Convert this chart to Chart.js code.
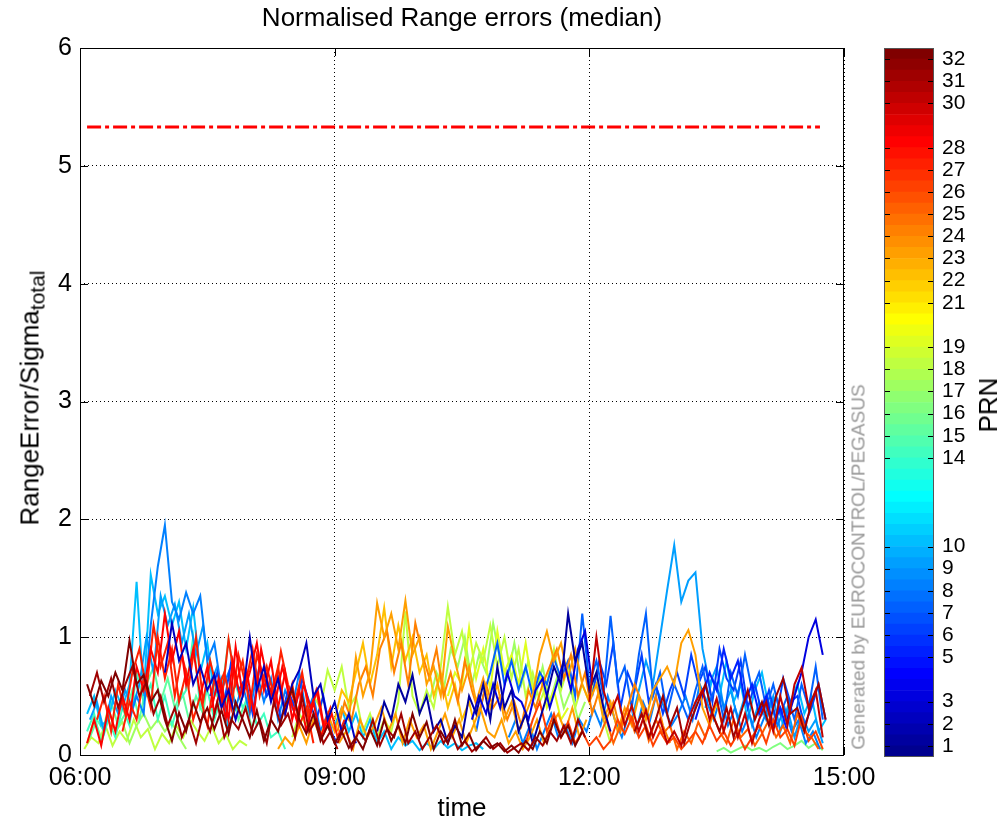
<!DOCTYPE html>
<html>
<head>
<meta charset="utf-8">
<script src="https://cdn.jsdelivr.net/npm/chart.js@4.4.1/dist/chart.umd.min.js"></script>
<style>
  body { margin: 0; background: #fff; font-family: 'Liberation Sans', Arial, sans-serif; }
  #wrap { position: relative; width: 1001px; height: 827px; overflow: hidden; }
  canvas { position: absolute; top: 0; }
  .rot { position: absolute; white-space: nowrap; transform: translate(-50%, -50%) rotate(-90deg); line-height: 1; }
  #ylab { left: 32px; top: 398px; font-size: 26px; color: #000; }
  #ylab sub { font-size: 21px; vertical-align: -6px; }
  #prnlab { left: 988px; top: 405px; font-size: 26px; color: #000; }
  #stamp { left: 858px; top: 567px; font-size: 19px; color: #999; }
</style>
</head>
<body>
<div id="wrap">
  <canvas id="main" width="1001" height="827" style="left:0"></canvas>
  <canvas id="cbar" width="141" height="827" style="left:860px"></canvas>
  <div class="rot" id="ylab">RangeError/Sigma<sub>total</sub></div>
  <div class="rot" id="prnlab">PRN</div>
  <div class="rot" id="stamp">Generated by EUROCONTROL/PEGASUS</div>
</div>
<script>
// values every 5 minutes, from the start time given in the series list
const prn32 = [0.6, 0.42, 0.63, 0.5, 0.7, 0.55, 0.97, 0.6, 0.68, 0.45, 0.55,
  0.3, 0.12, 0.36, 0.2, 0.45, 0.28, 0.4, 0.22, 0.38, 0.18, 0.45, 0.3,
  0.15, 0.38, 0.12, 0.3, 0.2, 0.42, 0.56, 0.3, 0.18, 0.35, 0.12, 0.25,
  0.1, 0.2, 0.06, 0.15, 0.05, 0.22, 0.08, 0.3, 0.12, 0.25, 0.1, 0.35,
  0.15, 0.28, 0.05, 0.2, 0.1, 0.3, 0.08, 0.18, 0.04, 0.12, 0.06, 0.1,
  0.03, 0.08, 0.02, 0.12, 0.05, 0.2, 0.1, 0.3, 0.15, 0.25, 0.08, 0.2];
const prn31a = [0.5, 0.7, 0.45, 0.65, 0.4, 0.6, 0.75, 0.5, 0.62, 0.35, 0.5, 0.25,
  0.4, 0.15, 0.3, 0.1, 0.35, 0.2, 0.45, 0.15, 0.3, 0.22, 0.4, 0.18,
  0.3, 0.1, 0.45, 0.25, 0.35, 0.15, 0.5, 0.2, 0.3, 0.1, 0.2, 0.05];
const prn31b = [0.1, 0.25, 0.05, 0.2, 0.12, 0.3, 0.08, 0.22, 0.15, 0.35, 0.1, 0.2,
  0.05, 0.15, 0.25, 0.1, 0.2, 0.05, 0.12, 0.03, 0.08, 0.15, 0.05, 0.1,
  0.02, 0.06, 0.1, 0.04, 0.15, 0.08, 0.2, 0.12, 0.25, 0.1, 0.3, 0.15];
const prn31c = [0.2, 0.35, 0.15, 0.3, 0.5, 0.25, 0.4, 0.1, 0.3, 0.45, 0.6, 0.35,
  0.2, 0.4, 0.15, 0.35, 0.55, 0.3, 0.45, 0.25, 0.5, 0.65, 0.35, 0.4,
  0.2, 0.45, 0.6, 0.3];
const prn30 = [0.45, 1.0, 0.55, 0.35, 0.5, 0.25, 0.42, 0.2, 0.38, 0.15, 0.3, 0.1,
  0.2, 0.08, 0.3, 0.45, 0.55, 0.3, 0.48, 0.2, 0.4, 0.15, 0.35, 0.1,
  0.3, 0.45, 0.2, 0.5, 0.25, 0.6, 0.74, 0.4, 0.55, 0.15];
const prn28a = [0.1, 0.3, 0.08, 0.4, 0.2, 0.5, 0.3, 0.75, 0.55, 0.9, 0.7,
  1.2, 0.8, 1.05, 0.6, 0.9, 0.5, 0.75, 0.35, 0.6, 0.3, 0.92, 0.5,
  0.7, 0.95, 0.55, 0.8, 0.4, 0.7, 0.3, 0.55, 0.2, 0.45, 0.15, 0.3, 0.1];
const prn28b = [0.4, 0.65, 0.3, 0.8, 0.5, 0.7, 0.35, 0.9, 0.6, 0.45, 0.75, 0.5,
  0.3, 0.6, 0.4, 0.55, 0.2, 0.35];
const prn27a = [0.2, 0.45, 0.3, 0.65, 0.4, 1.0,
  0.65, 0.9, 0.45, 0.7, 0.3, 0.5, 0.25, 0.65, 0.45, 0.98, 0.6, 0.8,
  0.4, 0.85, 0.65, 0.5, 0.75, 0.35, 0.6, 0.25, 0.4, 0.1];
const prn27b = [0.3, 0.5, 0.2, 0.6, 0.35, 0.7, 0.9, 0.55, 1.1, 0.75, 0.95, 0.5,
  0.85, 0.6, 1.0, 0.45, 0.8, 0.55, 0.7, 0.4, 0.85, 0.6, 0.9, 0.5,
  0.75, 0.5, 0.88, 0.6, 0.45, 0.7, 0.35, 0.55, 0.25, 0.4, 0.15, 0.3];
const prn26 = [0.1, 0.3, 0.45, 0.2, 0.35, 0.15, 0.28, 0.1, 0.2,
  0.08, 0.15, 0.05, 0.12, 0.3, 0.18, 0.32, 0.15, 0.25, 0.08, 0.2, 0.1,
  0.15, 0.05, 0.12, 0.2, 0.1, 0.25, 0.12, 0.2, 0.08, 0.18, 0.05, 0.15,
  0.25, 0.1, 0.3, 0.15, 0.22, 0.08, 0.32, 0.12, 0.2, 0.05];
const prn25 = [0.15, 0.3, 0.1, 0.25, 0.4, 0.2, 0.35, 0.12, 0.3, 0.18, 0.25, 0.05,
  0.2, 0.1, 0.28, 0.15, 0.35, 0.2, 0.1, 0.3, 0.15, 0.22, 0.08, 0.18,
  0.3, 0.15, 0.25, 0.1, 0.35, 0.2, 0.15, 0.05];
const prn24 = [0.2, 0.45, 0.3, 0.6, 0.75, 0.5, 0.9, 1.05, 0.7, 0.95, 0.6, 1.12,
  0.85, 0.65, 0.9, 0.5, 0.7, 0.45, 0.8, 0.55, 0.35, 0.6, 0.4, 0.5,
  0.3, 0.45, 0.25, 0.55, 0.4, 0.6, 0.75, 0.9, 0.65, 0.85, 0.5, 0.7,
  0.35, 0.55, 0.3, 0.45, 0.2, 0.4, 0.6, 0.45, 0.3, 0.5, 0.25, 0.1];
const prn23a = [0.05, 0.15, 0.08, 0.25, 0.1, 0.3, 0.15, 0.35,
  0.2, 0.4, 0.3, 0.83, 0.5, 0.7, 1.29, 1.0, 1.2, 0.9, 1.31, 0.85,
  1.0, 0.6, 0.75, 0.5, 1.09, 0.8, 0.55, 0.75, 0.45, 0.65, 0.4, 0.6,
  0.3, 0.45, 0.2, 0.35, 0.5, 0.85, 1.05, 0.8, 0.95, 0.65, 0.9, 0.6,
  0.45, 0.6, 0.3, 0.45, 0.2, 0.4, 0.25, 0.5, 0.3, 0.55, 0.65, 0.75,
  0.6, 0.95, 1.06, 0.85, 0.4, 0.25, 0.45, 0.2];
const prn23b = [0.1, 0.2, 0.05, 0.3, 0.15, 0.25, 0.4, 0.2, 0.35, 0.1, 0.3, 0.15,
  0.25, 0.05, 0.2, 0.35, 0.15, 0.3, 0.1, 0.25, 0.4, 0.2, 0.15, 0.3,
  0.1, 0.2, 0.05, 0.15, 0.3, 0.1, 0.25, 0.35, 0.2, 0.4, 0.15, 0.3];
const prn22 = [0.3, 0.55, 0.45, 0.7, 0.95, 0.6, 0.85, 1.25, 0.75, 1.1, 0.8, 1.0,
  0.7, 0.85, 0.5, 0.7, 0.4, 0.6, 0.3, 0.45, 0.2];
const prn19 = [0.5, 0.7, 0.6, 1.08, 0.65, 0.9, 0.55, 1.05, 0.7, 0.85, 0.6, 0.95,
  0.55, 0.7, 0.4, 0.55, 0.3, 0.4];
const prn18a = [0.05, 0.15, 0.1, 0.25, 0.08, 0.2, 0.12, 0.3, 0.15, 0.22, 0.05, 0.18,
  0.1, 0.25, 0.15, 0.3, 0.2, 0.12, 0.25, 0.1, 0.18, 0.05, 0.12, 0.08];
const prn18b = [0.15, 0.35, 0.25, 0.5, 0.4, 0.72,
  0.55, 0.75, 0.4, 0.5, 0.2, 0.35, 0.15, 0.3, 0.2, 0.45, 1.22, 0.5,
  0.35, 0.55, 0.4, 0.75, 1.26, 0.85, 1.05, 0.7, 0.95, 0.8, 1.1, 0.75,
  1.0, 0.65, 0.9, 0.5, 0.7, 0.45, 0.6, 0.9, 0.55, 0.75, 0.4, 0.6,
  0.45, 0.7, 0.3, 0.1];
const prn17a = [0.1, 0.3, 0.15, 0.4, 0.2, 0.28, 0.1, 0.25, 0.35, 0.22, 0.3, 0.2, 0.28, 0.15, 0.05];
const prn17b = [0.45, 0.7, 0.55, 0.9, 0.75, 1.0, 0.6, 0.85, 0.7, 1.12, 0.8, 0.65,
  0.95, 0.6, 0.8, 0.5, 0.75, 0.45, 0.65, 0.4, 0.55, 0.3, 0.45];
const prn16 = [0.03, 0.06, 0.02, 0.05, 0.08, 0.04, 0.06, 0.03, 0.07, 0.1, 0.05, 0.08, 0.12, 0.06, 0.1, 0.04];
const prn15 = [0.15, 0.3, 0.2, 0.45, 0.25, 0.35, 0.55, 0.3, 0.6, 0.75, 0.45, 0.65,
  0.4, 0.55, 0.3, 0.5, 0.35, 0.8, 0.5, 0.4, 0.6, 0.3, 0.45, 0.2];
const prn14 = [0.2, 0.35, 0.1, 0.3, 0.15, 0.4, 0.25, 0.7, 0.45, 0.6, 0.3,
  0.5, 0.25, 0.45, 0.55, 1.0, 0.4, 0.55, 0.3, 0.5, 0.98, 0.6, 0.4,
  0.5, 0.25, 0.35, 0.15, 0.2, 0.05];
const prn10a = [0.35, 0.5, 0.25, 0.3, 0.55, 0.4, 0.6, 1.47, 0.5, 1.53, 1.2,
  1.35, 1.1, 1.3, 0.9, 1.25, 0.7, 0.95, 0.5, 0.65, 0.2];
const prn10b = [0.25, 0.4, 0.2, 0.35, 0.15, 0.3, 0.1, 0.2, 0.05, 0.15, 0.08, 0.12,
  0.04, 0.1, 0.05, 0.12, 0.06, 0.1, 0.04, 0.08, 0.1, 0.05];
const prn10c = [0.4, 0.65, 0.5, 0.8, 0.45, 0.6, 0.3, 0.55, 0.7, 0.4, 0.5, 0.25,
  0.45, 0.6, 0.35, 0.5, 0.2, 0.3];
const prn9a = [0.3, 0.45, 0.2, 0.5, 0.35, 0.55, 0.4, 0.6, 1.0, 0.7, 1.35, 1.1,
  1.28, 0.95, 1.2, 0.85, 1.1, 0.6, 0.75, 0.4, 0.3];
const prn9b = [0.3, 0.55, 0.8, 0.6, 1.0, 1.4,
  1.78, 1.3, 1.48, 1.55, 0.9, 0.6, 0.75, 0.4, 0.55, 0.3, 0.5, 0.25,
  0.45, 0.3, 0.5, 0.2, 0.4, 0.15, 0.35, 0.2, 0.3, 0.1];
const prn8a = [0.3, 0.5, 0.35, 1.1, 1.6,
  1.95, 1.3, 1.15, 1.38, 1.2, 1.35, 0.8, 0.95, 0.55, 0.7, 0.4, 0.6,
  0.35, 0.7, 0.45, 0.65, 0.3, 0.55, 0.4, 0.7, 0.35, 0.5, 0.2, 0.35, 0.1];
const prn8b = [0.15, 0.3, 0.1, 0.25, 0.05, 0.2, 0.35, 0.15, 0.25, 0.1, 0.3, 0.2,
  0.4, 0.25, 0.5, 0.3, 0.15, 0.35, 0.2, 0.45, 0.3, 0.55, 0.4, 0.25,
  0.35, 0.5, 0.3, 0.6, 0.45, 0.3, 0.5, 0.25, 0.4, 0.2, 0.35, 0.15,
  0.3, 0.45, 0.25, 0.4, 0.2, 0.3, 0.1, 0.2, 0.05];
const prn7 = [0.2, 0.5, 0.7, 0.95,
  0.6, 0.8, 0.55, 0.75, 0.5, 0.7, 0.6, 0.82, 0.65, 0.8, 0.5, 1.2,
  0.6, 0.8, 0.5, 1.18, 0.6, 0.75, 0.4, 0.85, 1.2, 0.5, 0.7, 0.35,
  0.6, 0.45, 0.3, 0.55, 0.75, 0.45, 0.6, 0.3, 0.7, 0.5, 0.85, 0.55,
  0.7, 0.4, 0.6, 0.35, 0.5, 0.3, 0.6, 0.4, 0.75, 0.3];
const prn6a = [0.5, 0.7, 0.45, 0.8, 0.55, 0.65, 0.35, 0.75, 0.5, 0.6, 0.3, 0.55,
  0.4, 0.65, 0.45, 0.3, 0.5, 0.2, 0.1];
const prn6b = [0.5, 0.8, 0.6, 0.95, 0.4, 0.7, 0.55, 0.85, 0.45, 0.6, 0.35, 0.55,
  0.7, 0.5, 0.85, 0.6, 0.75, 0.45, 0.9, 0.65, 0.55, 0.8, 0.4, 0.6,
  0.35, 0.55, 0.3, 0.65, 0.45, 0.5, 0.25, 0.4, 0.6, 0.3];
const prn5 = [0.3, 0.5, 0.7, 0.55, 0.9, 0.65, 0.8, 0.45, 0.6, 0.35, 0.5, 0.25, 0.4, 0.2];
const prn3a = [0.3, 0.5, 0.35, 0.6, 0.4, 0.7, 0.5, 0.45, 0.3, 0.55, 0.65, 0.4,
  0.6, 0.8, 0.55, 0.9, 1.05, 0.6];
const prn3b = [0.3, 0.5, 0.7, 1.0, 1.15, 0.85];
const prn2 = [0.7, 1.12, 0.8, 0.95, 0.6, 0.75, 0.55, 0.68, 0.4, 0.55, 0.3, 0.5,
  1.0, 0.55, 0.75, 0.45, 0.65, 0.35, 0.6, 0.72, 0.95, 0.5, 0.6, 0.3,
  0.45, 0.2, 0.35, 0.1];
const prn1 = [0.2, 0.45, 0.3, 0.6, 0.45, 0.68,
  0.35, 0.5, 0.2, 0.3, 0.1, 0.25, 0.15, 0.5, 0.35, 0.6, 0.3, 0.75,
  0.4, 0.55, 0.2, 0.35, 0.1, 0.3, 0.5, 0.75, 0.6, 1.2, 0.8, 0.95,
  0.55, 0.7, 0.4, 0.2];

const thresholdValue = 5.33;
const thresholdSpan = ['06:05', '14:43'];
const timeTicks = [6, 9, 12, 15];
const prnTicks = [1, 2, 3, 5, 6, 7, 8, 9, 10, 14, 15, 16, 17, 18, 19, 21, 22, 23, 24, 25, 26, 27, 28, 30, 31, 32];

// first in the list is drawn on top
const series = [
  { prn: 32, start: '06:05', values: prn32 },
  { prn: 31, start: '06:07', values: prn31a },
  { prn: 31, start: '09:02', values: prn31b },
  { prn: 30, start: '12:00', values: prn30 },
  { prn: 31, start: '12:32', values: prn31c },
  { prn: 2, start: '07:00', values: prn2 },
  { prn: 1, start: '09:30', values: prn1 },
  { prn: 3, start: '10:37', values: prn3a },
  { prn: 3, start: '14:20', values: prn3b },
  { prn: 28, start: '06:05', values: prn28a },
  { prn: 28, start: '07:33', values: prn28b },
  { prn: 27, start: '06:30', values: prn27a },
  { prn: 27, start: '06:12', values: prn27b },
  { prn: 26, start: '11:15', values: prn26 },
  { prn: 25, start: '12:07', values: prn25 },
  { prn: 23, start: '08:20', values: prn23a },
  { prn: 23, start: '09:03', values: prn23b },
  { prn: 24, start: '09:02', values: prn24 },
  { prn: 22, start: '09:00', values: prn22 },
  { prn: 5, start: '13:15', values: prn5 },
  { prn: 7, start: '10:40', values: prn7 },
  { prn: 6, start: '07:32', values: prn6a },
  { prn: 6, start: '12:02', values: prn6b },
  { prn: 8, start: '06:35', values: prn8a },
  { prn: 8, start: '11:03', values: prn8b },
  { prn: 9, start: '06:07', values: prn9a },
  { prn: 9, start: '12:30', values: prn9b },
  { prn: 10, start: '06:05', values: prn10a },
  { prn: 10, start: '09:00', values: prn10b },
  { prn: 10, start: '13:22', values: prn10c },
  { prn: 18, start: '08:30', values: prn18b },
  { prn: 19, start: '10:20', values: prn19 },
  { prn: 17, start: '10:07', values: prn17b },
  { prn: 14, start: '06:05', values: prn14 },
  { prn: 15, start: '06:07', values: prn15 },
  { prn: 17, start: '06:05', values: prn17a },
  { prn: 18, start: '06:03', values: prn18a },
  { prn: 16, start: '13:30', values: prn16 }
];

const FONT = "'Liberation Sans', Arial, sans-serif";
const STEP_MIN = 5;

function toHours(hhmm) {
  const p = hhmm.split(':').map(Number);
  return p[0] + p[1] / 60;
}

// matlab jet(64)
function jet(i) {
  const x = (i + 1) / 64;
  const c = v => Math.round(255 * Math.max(0, Math.min(1, v)));
  return 'rgb(' + c(1.5 - Math.abs(4 * x - 3)) + ',' + c(1.5 - Math.abs(4 * x - 2)) + ',' + c(1.5 - Math.abs(4 * x - 1)) + ')';
}
function prnColor(prn) {
  return jet(2 * prn - 1);
}

const datasets = [{
  data: thresholdSpan.map(t => ({ x: toHours(t), y: thresholdValue })),
  borderColor: '#ff0000',
  borderWidth: 3,
  borderDash: [14, 4, 4, 4],
  pointRadius: 0
}];
series.forEach(function (s) {
  const t0 = toHours(s.start);
  datasets.push({
    data: s.values.map((v, i) => ({ x: t0 + i * STEP_MIN / 60, y: v })),
    borderColor: prnColor(s.prn),
    borderWidth: 2,
    pointRadius: 0,
    tension: 0
  });
});

// box round the axes and ticks pointing inwards, like matlab
const boxPlugin = {
  id: 'box',
  afterDraw(chart) {
    const ctx = chart.ctx;
    const a = chart.chartArea;
    const len = chart.options.plugins.box.tickLen;
    ctx.save();
    ctx.strokeStyle = chart.options.plugins.box.color;
    ctx.lineWidth = 1;
    ctx.beginPath();
    Object.values(chart.scales).forEach(function (sc) {
      if (!sc.options.display) return;
      sc.ticks.forEach(function (t) {
        const p = Math.round(sc.getPixelForValue(t.value)) + 0.5;
        if (sc.isHorizontal()) {
          ctx.moveTo(p, a.bottom); ctx.lineTo(p, a.bottom - len);
          ctx.moveTo(p, a.top); ctx.lineTo(p, a.top + len);
        } else {
          ctx.moveTo(a.left, p); ctx.lineTo(a.left + len, p);
          ctx.moveTo(a.right, p); ctx.lineTo(a.right - len, p);
        }
      });
    });
    ctx.stroke();
    ctx.strokeRect(a.left + 0.5, a.top + 0.5, a.right - a.left - 1, a.bottom - a.top);
    ctx.restore();
  }
};

const tickFont = { family: FONT, size: 25 };

new Chart(document.getElementById('main'), {
  type: 'line',
  data: { datasets: datasets },
  options: {
    responsive: false,
    animation: false,
    devicePixelRatio: 1,
    layout: { padding: { top: 0, right: 157, bottom: 0, left: 0 } },
    plugins: {
      legend: { display: false },
      tooltip: { enabled: false },
      box: { tickLen: 8, color: '#000' },
      title: {
        display: true,
        fullSize: false,
        text: 'Normalised Range errors (median)',
        color: '#000',
        font: { family: FONT, size: 26, weight: 'normal', lineHeight: 1.2 },
        padding: { top: 3, bottom: 13.8 }
      }
    },
    scales: {
      x: {
        type: 'linear',
        min: 6,
        max: 15,
        afterBuildTicks: s => { s.ticks = timeTicks.map(v => ({ value: v })); },
        ticks: {
          color: '#000',
          font: tickFont,
          padding: 8,
          maxRotation: 0,
          callback: v => String(v).padStart(2, '0') + ':00'
        },
        grid: { color: '#000', lineWidth: 1, drawTicks: false },
        border: { display: false, dash: [1, 3] },
        title: { display: true, text: 'time', color: '#000', font: { family: FONT, size: 26, lineHeight: 1.2 }, padding: { top: 0, bottom: 3 } },
        afterFit: s => { s.height = 72; }
      },
      y: {
        min: 0,
        max: 6,
        ticks: { stepSize: 1, color: '#000', font: tickFont, padding: 8 },
        grid: { color: '#000', lineWidth: 1, drawTicks: false },
        border: { display: false, dash: [1, 3] },
        afterFit: s => { s.width = 80; }
      }
    }
  },
  plugins: [boxPlugin]
});

// colour bar: 64 jet steps over PRN 0.5 .. 32.5
const cbarSets = [];
for (let k = 0; k < 64; k++) {
  cbarSets.push({
    data: [[0.5 + k * 0.5, 1 + k * 0.5]],
    backgroundColor: jet(k),
    borderWidth: 0,
    barPercentage: 1,
    categoryPercentage: 1
  });
}

const cbarBox = {
  id: 'cbarBox',
  afterDraw(chart) {
    const ctx = chart.ctx;
    const a = chart.chartArea;
    const sc = chart.scales.y;
    ctx.save();
    ctx.strokeStyle = '#000';
    ctx.lineWidth = 1;
    ctx.beginPath();
    sc.ticks.forEach(function (t) {
      const p = Math.round(sc.getPixelForValue(t.value)) + 0.5;
      ctx.moveTo(a.left, p); ctx.lineTo(a.left + 6, p);
      ctx.moveTo(a.right, p); ctx.lineTo(a.right - 6, p);
    });
    ctx.stroke();
    ctx.strokeStyle = '#555';
    ctx.strokeRect(a.left + 0.5, a.top + 0.5, a.right - a.left - 1, a.bottom - a.top - 1);
    ctx.restore();
  }
};

new Chart(document.getElementById('cbar'), {
  type: 'bar',
  data: { labels: ['PRN'], datasets: cbarSets },
  options: {
    responsive: false,
    animation: false,
    devicePixelRatio: 1,
    layout: { padding: { top: 48, right: 0, bottom: 70, left: 24 } },
    plugins: { legend: { display: false }, tooltip: { enabled: false } },
    scales: {
      x: { display: false, stacked: true },
      y: {
        position: 'right',
        min: 0.5,
        max: 32.5,
        afterBuildTicks: s => { s.ticks = prnTicks.map(v => ({ value: v })); },
        ticks: { color: '#000', font: { family: FONT, size: 21 }, padding: 0, autoSkip: false },
        grid: { display: false },
        border: { display: false },
        afterFit: s => { s.width = 67; }
      }
    }
  },
  plugins: [cbarBox]
});
</script>
</body>
</html>
